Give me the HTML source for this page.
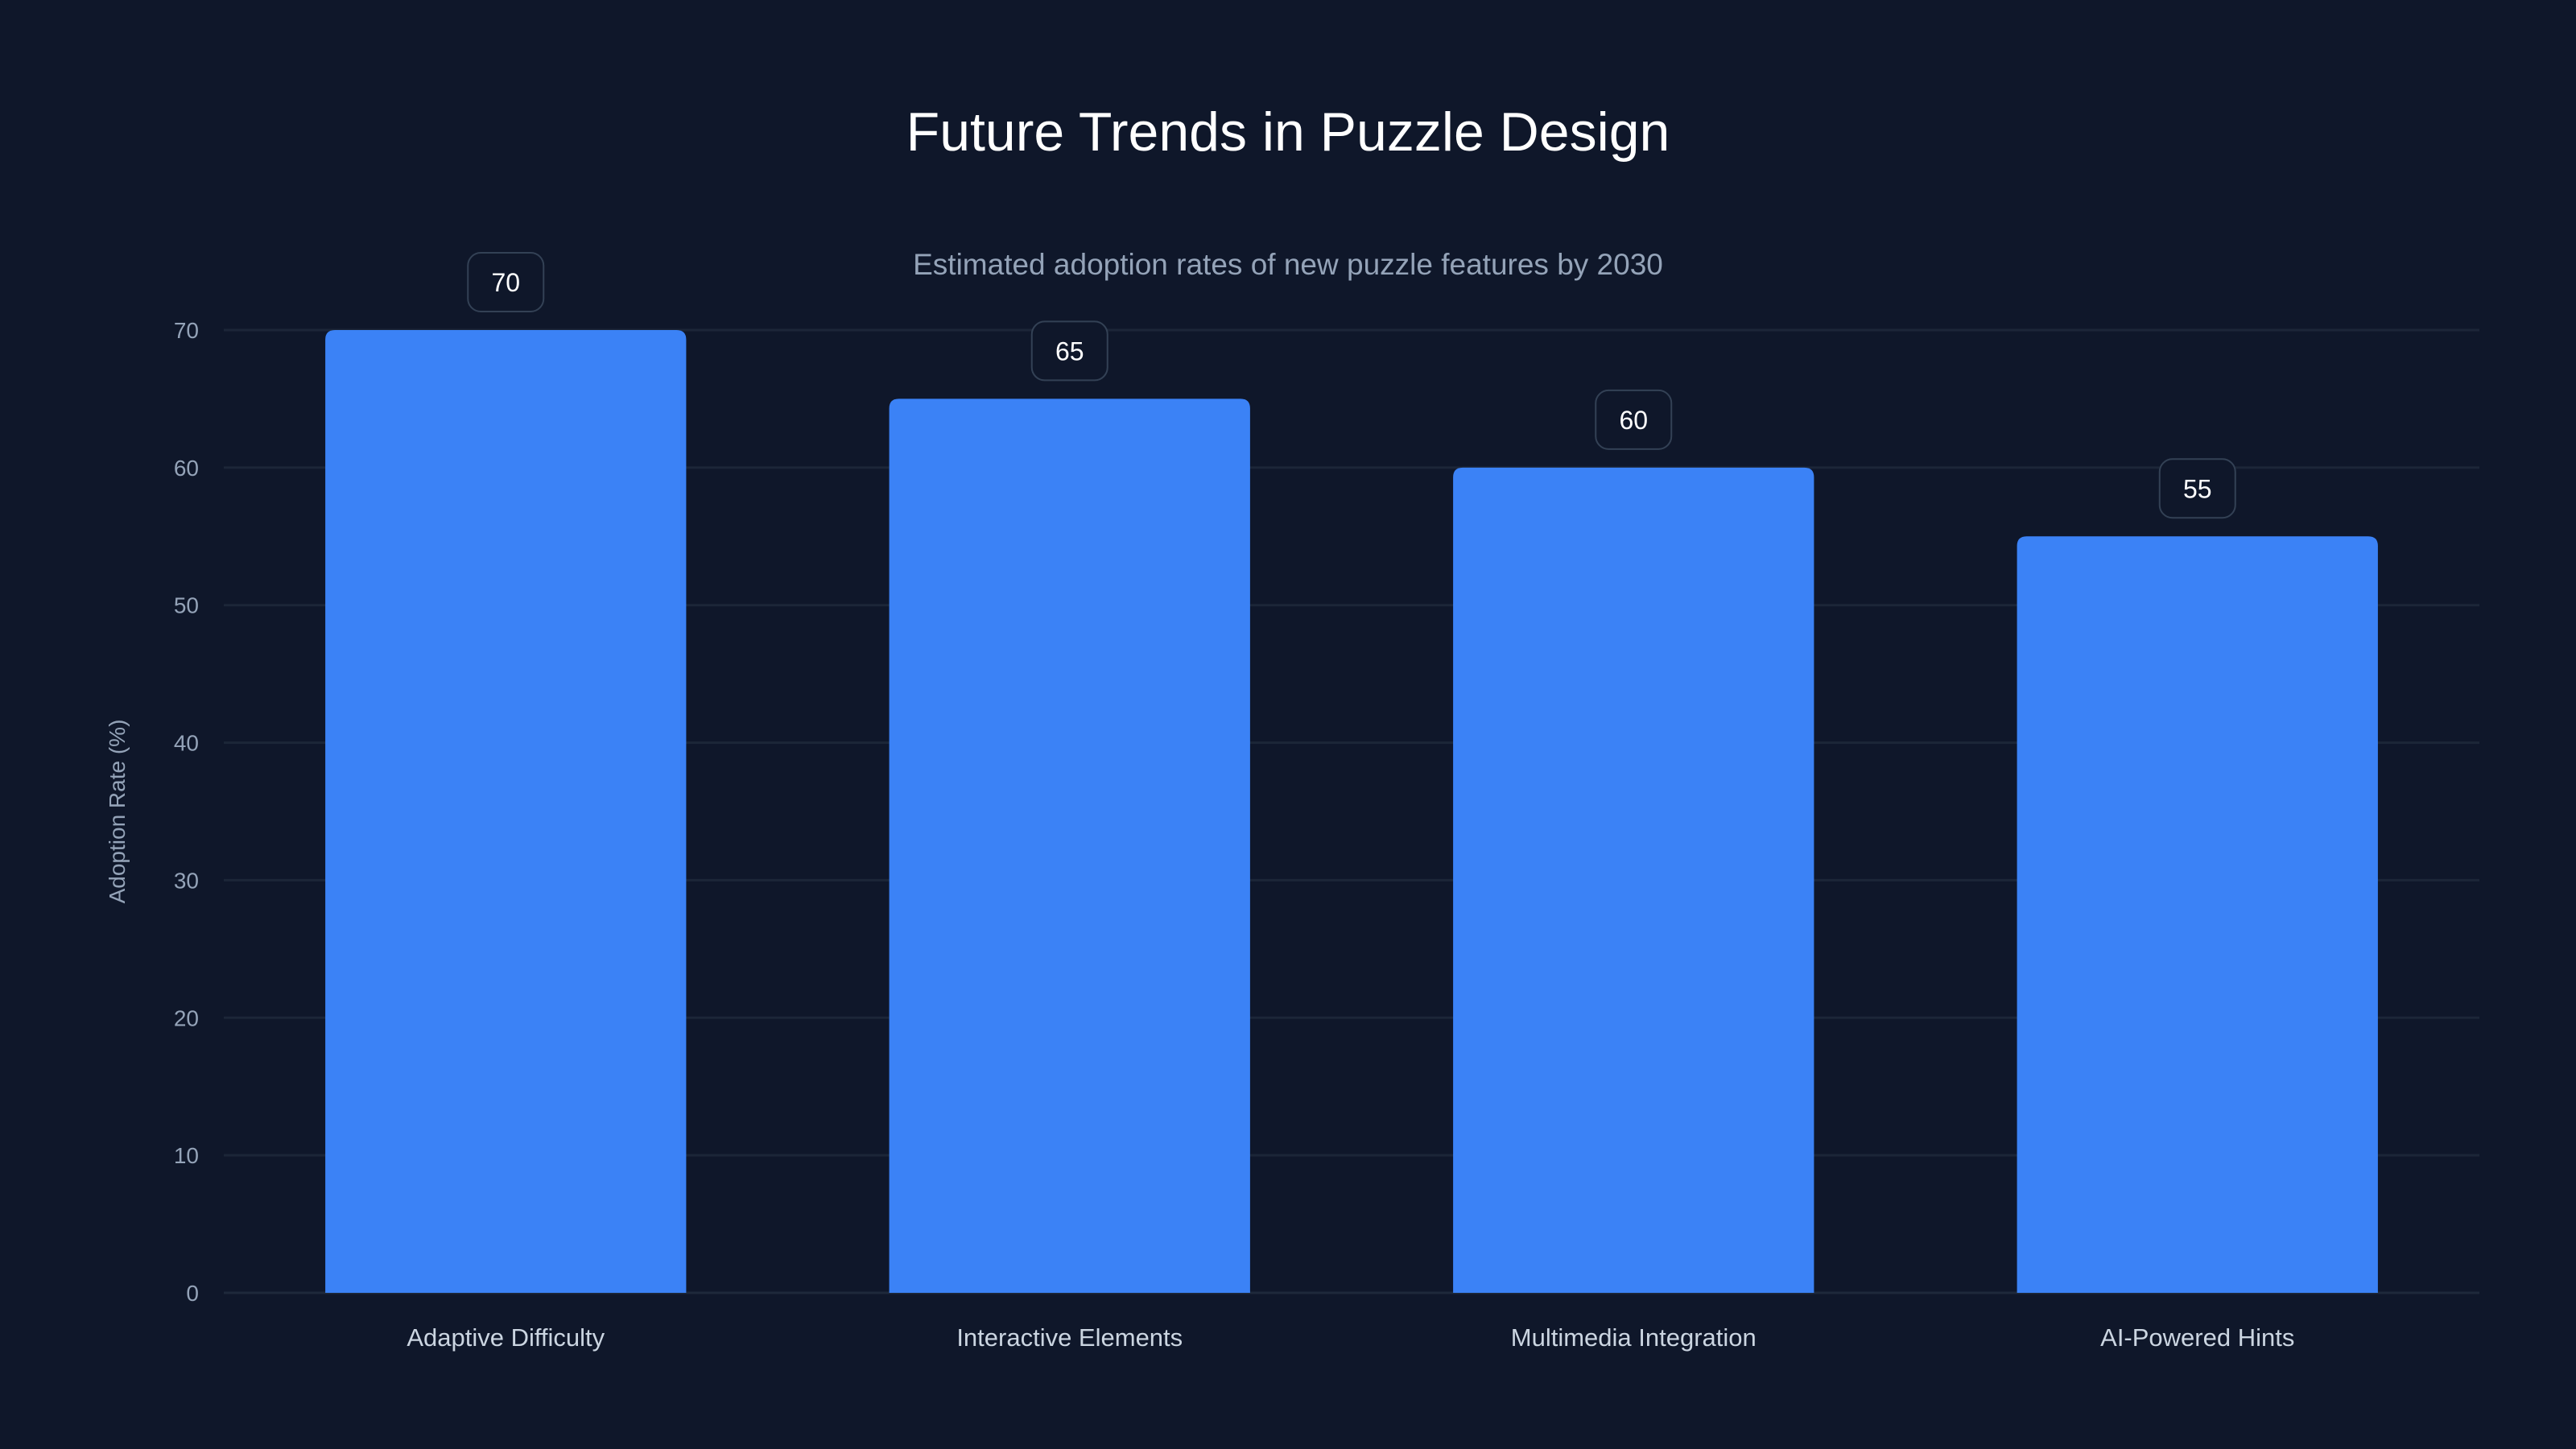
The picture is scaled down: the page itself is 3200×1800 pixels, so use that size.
<!DOCTYPE html>
<html><head><meta charset="utf-8">
<style>
html,body{margin:0;padding:0;background:#0f172a;}
svg{display:block;font-family:"Liberation Sans",sans-serif;}
</style></head>
<body>
<svg id="chart" width="3200" height="1800" viewBox="0 0 3200 1800" xmlns="http://www.w3.org/2000/svg">
<rect width="3200" height="1800" fill="#0f172a"/>
<text x="1600" y="187" text-anchor="middle" font-size="68" fill="#ffffff">Future Trends in Puzzle Design</text>
<text x="1600" y="341" text-anchor="middle" font-size="37" fill="#94a3b8">Estimated adoption rates of new puzzle features by 2030</text>
<text transform="translate(155,1008) rotate(-90)" text-anchor="middle" font-size="28" fill="#94a3b8">Adoption Rate (%)</text>
<g id="grid"></g><g id="bars"></g><g id="labels"></g>
</svg>
<script>
const categories = ["Adaptive Difficulty","Interactive Elements","Multimedia Integration","AI-Powered Hints"];
const values = [70,65,60,55];
const yTicks = [0,10,20,30,40,50,60,70];
const NS="http://www.w3.org/2000/svg";
const L=278,R=3080,T=410,B=1606,yMax=70;
const y=v=>B-(v/yMax)*(B-T);
const band=(R-L)/categories.length;
const x=i=>L+band*(i+0.5);
const bw=band*0.64;
function mk(tag,attrs,parent){const e=document.createElementNS(NS,tag);for(const k in attrs)e.setAttribute(k,attrs[k]);parent.appendChild(e);return e;}
const grid=document.getElementById('grid'),bars=document.getElementById('bars'),labels=document.getElementById('labels');
yTicks.forEach(t=>{
  const ln=mk('line',{x1:L,x2:R,y1:y(t),y2:y(t),stroke:t===0?'#1e293b':'#1c2638','stroke-width':3},grid);
  
  
  const tx=mk('text',{x:247,y:y(t)+10,'text-anchor':'end','font-size':28,fill:'#94a3b8'},grid);
  tx.textContent=t;
  
  
});
categories.forEach((c,i)=>{
  const v=values[i],cx=x(i),top=y(v),r=12;
  const p=mk('path',{d:`M${cx-bw/2},${B} V${top+r} Q${cx-bw/2},${top} ${cx-bw/2+r},${top} H${cx+bw/2-r} Q${cx+bw/2},${top} ${cx+bw/2},${top+r} V${B} Z`,fill:'#3b82f6'},bars);
  
  
  const bx=mk('rect',{x:cx-47,y:top-96,width:94,height:73,rx:16,fill:'#0f172a',stroke:'#334155','stroke-width':2},labels);
  
  
  const vt=mk('text',{x:cx,y:top-48,'text-anchor':'middle','font-size':32,fill:'#ffffff'},labels);
  vt.textContent=v;
  
  
  const xt=mk('text',{x:cx,y:1672,'text-anchor':'middle','font-size':31,fill:'#cbd5e1'},labels);
  xt.textContent=c;
  
  
});
</script>
</body></html>
